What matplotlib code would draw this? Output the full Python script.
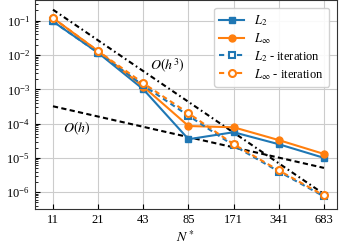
import matplotlib
matplotlib.use("Agg")
import matplotlib.pyplot as plt
from matplotlib.ticker import FixedLocator, LogLocator, NullFormatter

plt.rcParams['font.family'] = ['Liberation Serif', 'DejaVu Serif']
plt.rcParams['mathtext.fontset'] = 'stix'
plt.rcParams['font.size'] = 9

# grid sizes along the x axis
n_labels = ['11', '21', '43', '85', '171', '341', '683']

# errors
err_l2 = [0.095, 0.0116, 0.001, 3.5e-5, 5.6e-5, 2.5e-5, 1.0e-5]
err_linf = [0.12, 0.013, 0.0012, 8.5e-5, 7.8e-5, 3.3e-5, 1.3e-5]
err_l2_iter = [0.095, 0.0116, 0.0013, 1.7e-4, 2.3e-5, 4.0e-6, 7.5e-7]
err_linf_iter = [0.12, 0.013, 0.0015, 2.0e-4, 2.5e-5, 4.3e-6, 8.0e-7]

# reference slopes, values at first and last grid
ref_h = [3.2e-4, 5.1e-6]
ref_h3 = [0.21, 8.8e-7]

# y tick decades shown
y_ticks = [1e-6, 1e-5, 1e-4, 1e-3, 1e-2, 1e-1]

x = list(range(len(n_labels)))
blue = '#1f77b4'
orange = '#ff7f0e'

fig = plt.figure(figsize=(3.39, 2.48), dpi=100)
ax = fig.add_axes([0.103, 0.156, 0.890, 0.842])

ax.plot([x[0], x[-1]], ref_h, color='black', lw=1.5, dashes=(2.5, 1.6), zorder=1)
ax.plot([x[0], x[-1]], ref_h3, color='black', lw=1.5, dashes=(2.5, 1.5, 0.8, 1.5), zorder=1)

ax.plot(x, err_l2, '-s', color=blue, lw=1.5, ms=5, label=r'$L_2$', zorder=3)
ax.plot(x, err_linf, '-o', color=orange, lw=1.5, ms=5, label=r'$L_\infty$', zorder=3)
ax.plot(x, err_l2_iter, 's', ls=(0, (2.5, 1.8)), color=blue, lw=1.5, ms=5, mfc='white',
        mew=1.5, label=r'$L_2$ - iteration', zorder=4)
ax.plot(x, err_linf_iter, 'o', ls=(0, (2.5, 1.8)), color=orange, lw=1.5, ms=5, mfc='white',
        mew=1.5, label=r'$L_\infty$ - iteration', zorder=4)

ax.text(2.15, 3.6e-3, r'$O(h^3)$', fontsize=10)
ax.text(0.22, 5.4e-5, r'$O(h)$', fontsize=10)

ax.set_yscale('log')
ax.set_xlim(-0.4, 6.28)
ax.set_ylim(10 ** -6.5, 10 ** -0.41)
ax.set_xticks(x)
ax.set_xticklabels(n_labels)
ax.yaxis.set_major_locator(FixedLocator(y_ticks))
ax.yaxis.set_minor_locator(LogLocator(base=10, subs=range(2, 10), numticks=12))
ax.yaxis.set_minor_formatter(NullFormatter())
ax.tick_params(which='both', direction='in')
ax.grid(True, which='major', color='#cccccc', lw=0.8)
ax.set_axisbelow(True)
ax.set_xlabel(r'$N^*$', fontsize=10, labelpad=2)

for s in ax.spines.values():
    s.set_color('#333333')

ax.legend(loc='upper right', fontsize=9, framealpha=0.9, borderaxespad=0.6,
          labelspacing=0.25, borderpad=0.4)

fig.savefig('out.png', dpi=100)
